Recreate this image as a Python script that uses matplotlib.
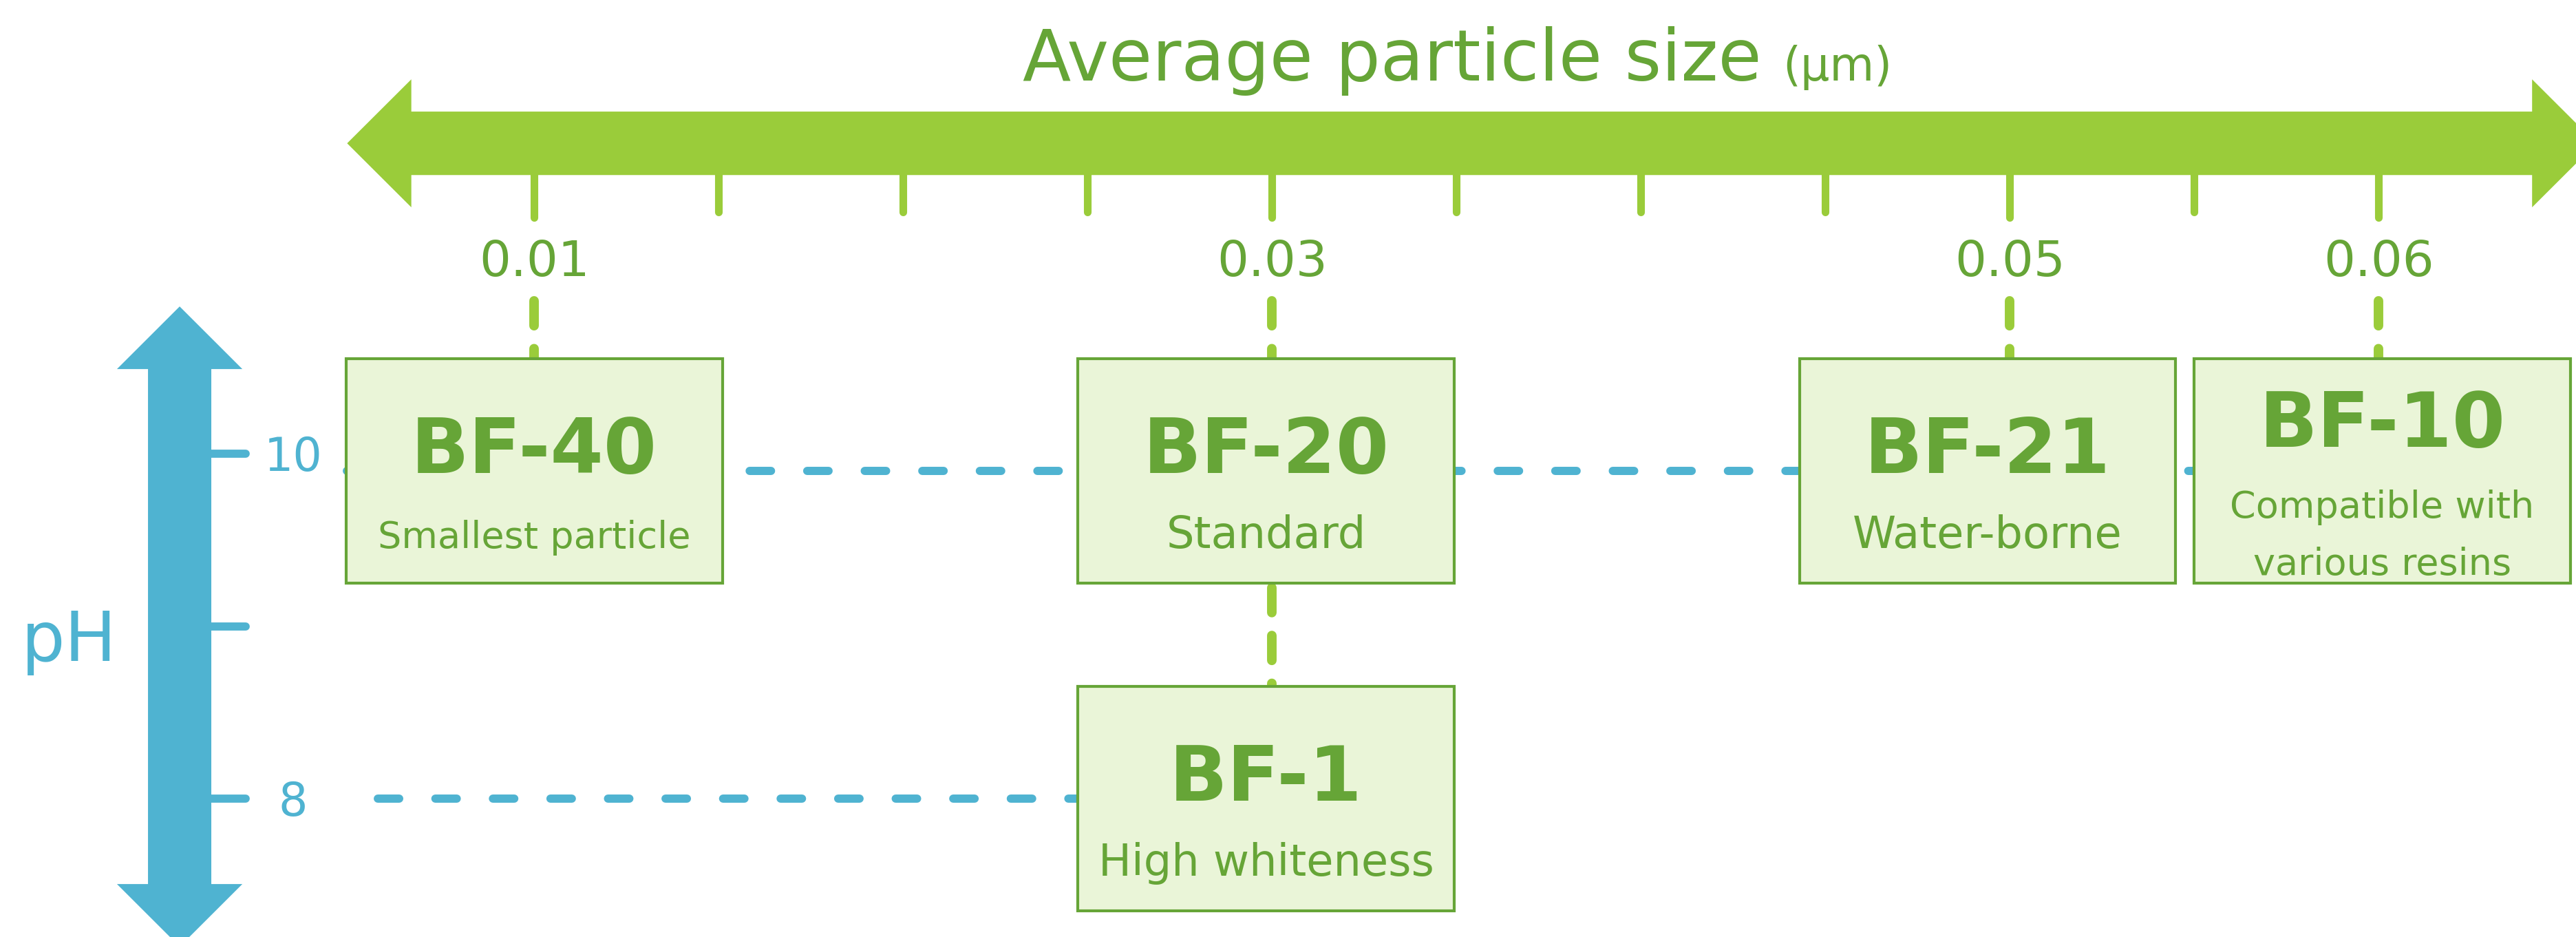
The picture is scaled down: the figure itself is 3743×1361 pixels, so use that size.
import numpy as np
import matplotlib
matplotlib.use('Agg')
import matplotlib.pyplot as plt
from matplotlib.patches import Polygon, Rectangle

plt.rcParams['font.family'] = ['DejaVu Sans']

# products placed by average particle size (um) and pH
products = ['BF-40', 'BF-20', 'BF-1', 'BF-21', 'BF-10']
descriptions = ['Smallest particle', 'Standard', 'High whiteness', 'Water-borne',
                'Compatible with\nvarious resins']
particle_size = [0.01, 0.03, 0.03, 0.05, 0.06]
ph = [9.9, 9.9, 8.0, 9.9, 9.9]

size_ticks = [0.01, 0.015, 0.02, 0.025, 0.03, 0.035, 0.04, 0.045, 0.05, 0.055, 0.06]
size_tick_labels = ['0.01', '', '', '', '0.03', '', '', '', '0.05', '', '0.06']
ph_ticks = [8, 9, 10]
ph_tick_labels = ['8', '', '10']

GREEN = '#9ACC3A'
DARK_GREEN = '#66A537'
BOX_FILL = '#EAF5D8'
BLUE = '#4FB3D1'

# layout tweaks
desc_size = [39, 46, 46, 46, 39]
box_shift = [0.0, -0.00016, -0.00016, -0.0006, 0.0001]
box_w, box_h = 0.0102, 1.30


def double_arrow(ax, a0, a1, c, half_w, head_half, head_len, horizontal, color):
    pts = [(a0, c), (a0 + head_len, c + head_half), (a0 + head_len, c + half_w),
           (a1 - head_len, c + half_w), (a1 - head_len, c + head_half), (a1, c),
           (a1 - head_len, c - head_half), (a1 - head_len, c - half_w),
           (a0 + head_len, c - half_w), (a0 + head_len, c - head_half)]
    if not horizontal:
        pts = [(q, p) for p, q in pts]
    ax.add_patch(Polygon(pts, closed=True, facecolor=color, edgecolor='none', zorder=2))


fig = plt.figure(figsize=(37.43, 13.61), dpi=100)
ax = fig.add_axes([0, 0, 1, 1])
ax.set_xlim(-0.00448, 0.06535)
ax.set_ylim(7.198, 12.631)
ax.axis('off')

# particle size axis (green arrow on top)
double_arrow(ax, 0.00493, 0.0659, 11.80, 0.184, 0.371, 0.00174, True, GREEN)
for t, lab in zip(size_ticks, size_tick_labels):
    ax.plot([t, t], [11.70, 11.37 if lab else 11.40], color=GREEN, lw=8,
            solid_capstyle='round', zorder=2)
    if lab:
        ax.text(t, 11.03, lab, color=DARK_GREEN, fontsize=52, ha='center', va='baseline')
ax.text(0.04327, 12.164, 'Average particle size', color=DARK_GREEN, fontsize=74,
        ha='right', va='baseline')
ax.text(0.04384, 12.164, '(µm)', color=DARK_GREEN, fontsize=48, ha='left', va='baseline')

# pH axis (blue arrow on left)
double_arrow(ax, 7.142, 10.854, 0.00039, 0.000858, 0.0017, 0.363, False, BLUE)
for t, lab in zip(ph_ticks, ph_tick_labels):
    ax.plot([0.0012, 0.00218], [t, t], color=BLUE, lw=8.5, solid_capstyle='round', zorder=2)
    if lab:
        ax.text(0.00347, t - 0.1, lab, color=BLUE, fontsize=48, ha='center', va='baseline')
ax.text(-0.00261, 8.80, 'pH', color=BLUE, fontsize=72, ha='center', va='baseline')

# blue dashed pH guide lines (drawn behind boxes)
top_idx = [i for i, p in enumerate(ph) if p > 9]
ax.plot([0.00493, particle_size[top_idx[-1]]], [ph[top_idx[0]]] * 2, color=BLUE, lw=8.6,
        linestyle=(0, (2.6, 4.4)), dash_capstyle='round', zorder=1)
low_idx = [i for i, p in enumerate(ph) if p < 9]
ax.plot([0.00577, particle_size[low_idx[0]]], [ph[low_idx[0]]] * 2, color=BLUE, lw=8.6,
        linestyle=(0, (2.6, 4.4)), dash_capstyle='round', zorder=1)

# green dashed size guide lines from the axis labels down to the lowest box
for s in sorted(set(particle_size)):
    lowest = min(p for p, x in zip(ph, particle_size) if x == s)
    ax.plot([s, s], [10.886, lowest + box_h / 2], color=GREEN, lw=10,
            linestyle=(0, (2.6, 2.4)), dash_capstyle='round', zorder=1)

# product boxes
for name, desc, s, p, fs, dx in zip(products, descriptions, particle_size, ph,
                                    desc_size, box_shift):
    cx = s + dx
    ax.add_patch(Rectangle((cx - box_w / 2, p - box_h / 2), box_w, box_h,
                           facecolor=BOX_FILL, edgecolor=DARK_GREEN, lw=3, zorder=3))
    lines = desc.split('\n')
    if len(lines) > 1:
        title_dy, line_dy = 0.14, [-0.27, -0.60]
    else:
        title_dy, line_dy = -0.01, [-0.447]
    ax.text(cx, p + title_dy, name, color=DARK_GREEN, fontsize=80, fontweight='bold',
            ha='center', va='baseline', zorder=4)
    for line, dy in zip(lines, line_dy):
        ax.text(cx, p + dy, line, color=DARK_GREEN, fontsize=fs, ha='center',
                va='baseline', zorder=4)

fig.savefig('out.png', dpi=100, facecolor='white')
plt.close(fig)
